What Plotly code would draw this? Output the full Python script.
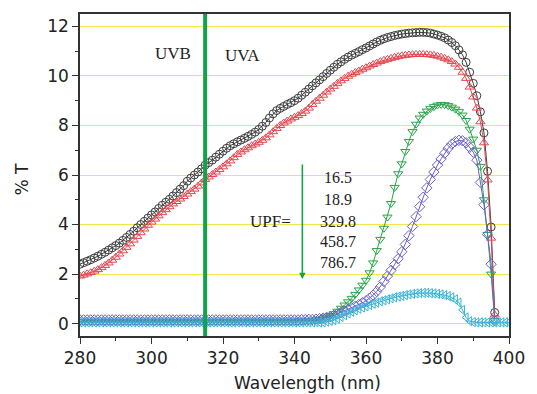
import plotly.graph_objects as go

# ---------------- data ----------------
wl_main = list(range(280, 397))   # 280..396 nm
wl_cyan = list(range(280, 401))   # 280..400 nm

t_black = [
    2.40, 2.46, 2.52, 2.58, 2.65, 2.72, 2.80, 2.88, 2.97, 3.06,
    3.15, 3.25, 3.36, 3.48, 3.60, 3.73, 3.87, 4.00, 4.13, 4.26,
    4.39, 4.51, 4.65, 4.78, 4.90, 5.02, 5.15, 5.29, 5.43, 5.57,
    5.75, 5.88, 6.00, 6.12, 6.25, 6.40, 6.50, 6.60, 6.72, 6.84,
    6.96, 7.08, 7.18, 7.26, 7.34, 7.41, 7.48, 7.56, 7.64, 7.73,
    7.84, 7.97, 8.12, 8.30, 8.47, 8.60, 8.69, 8.77, 8.85, 8.92,
    9.00, 9.10, 9.22, 9.34, 9.47, 9.60, 9.72, 9.84, 9.97, 10.10,
    10.23, 10.35, 10.47, 10.57, 10.67, 10.76, 10.84, 10.91, 10.98, 11.06,
    11.13, 11.21, 11.29, 11.37, 11.44, 11.50, 11.55, 11.59, 11.63, 11.66,
    11.69, 11.71, 11.73, 11.74, 11.75, 11.76, 11.76, 11.75, 11.73, 11.69,
    11.65, 11.60, 11.54, 11.45, 11.35, 11.22, 11.05, 10.85, 10.55, 10.15,
    9.70, 9.20, 8.55, 7.70, 6.15, 3.90, 0.45,
]

t_red = [
    1.92, 1.96, 2.01, 2.06, 2.12, 2.18, 2.26, 2.35, 2.45, 2.56,
    2.68, 2.81, 2.94, 3.08, 3.22, 3.37, 3.52, 3.67, 3.82, 3.97,
    4.10, 4.22, 4.35, 4.48, 4.60, 4.72, 4.83, 4.93, 5.03, 5.13,
    5.23, 5.33, 5.43, 5.55, 5.68, 5.82, 5.92, 6.02, 6.12, 6.22,
    6.33, 6.45, 6.57, 6.70, 6.83, 6.93, 7.02, 7.10, 7.18, 7.25,
    7.32, 7.40, 7.50, 7.62, 7.75, 7.88, 8.00, 8.10, 8.18, 8.26,
    8.33, 8.40, 8.48, 8.58, 8.70, 8.85, 8.98, 9.10, 9.22, 9.35,
    9.47, 9.58, 9.70, 9.80, 9.90, 9.99, 10.07, 10.14, 10.20, 10.27,
    10.33, 10.40, 10.46, 10.52, 10.58, 10.63, 10.67, 10.71, 10.75, 10.78,
    10.81, 10.83, 10.85, 10.86, 10.87, 10.87, 10.87, 10.86, 10.85, 10.83,
    10.80, 10.76, 10.71, 10.65, 10.58, 10.48, 10.35, 10.15, 9.90, 9.55,
    9.15, 8.70, 8.15, 7.30, 5.80, 3.45, 0.35,
]

t_green = [
    0.08, 0.08, 0.08, 0.08, 0.08, 0.08, 0.08, 0.08, 0.08, 0.08,
    0.08, 0.08, 0.08, 0.08, 0.08, 0.08, 0.08, 0.08, 0.08, 0.08,
    0.08, 0.08, 0.08, 0.08, 0.08, 0.08, 0.08, 0.08, 0.08, 0.08,
    0.08, 0.08, 0.08, 0.08, 0.08, 0.08, 0.08, 0.08, 0.08, 0.08,
    0.08, 0.08, 0.08, 0.08, 0.08, 0.08, 0.08, 0.08, 0.08, 0.08,
    0.08, 0.08, 0.08, 0.08, 0.08, 0.08, 0.08, 0.08, 0.08, 0.08,
    0.08, 0.09, 0.10, 0.11, 0.12, 0.13, 0.15, 0.18, 0.22, 0.27,
    0.33, 0.40, 0.50, 0.62, 0.75, 0.88, 1.02, 1.18, 1.36, 1.55,
    1.75, 2.05, 2.45, 2.95, 3.40, 3.85, 4.30, 4.85, 5.50, 6.05,
    6.45, 6.95, 7.35, 7.75, 8.05, 8.30, 8.45, 8.58, 8.68, 8.76,
    8.82, 8.85, 8.84, 8.80, 8.74, 8.66, 8.56, 8.42, 8.20, 7.85,
    7.45, 7.00, 6.35, 5.00, 3.60, 2.00, 0.12,
]

t_blue = [
    0.15, 0.15, 0.15, 0.15, 0.15, 0.15, 0.15, 0.15, 0.15, 0.15,
    0.15, 0.15, 0.15, 0.15, 0.15, 0.15, 0.15, 0.15, 0.15, 0.15,
    0.15, 0.15, 0.15, 0.15, 0.15, 0.15, 0.15, 0.15, 0.15, 0.15,
    0.15, 0.15, 0.15, 0.15, 0.15, 0.15, 0.15, 0.15, 0.15, 0.15,
    0.15, 0.15, 0.15, 0.15, 0.15, 0.15, 0.15, 0.15, 0.15, 0.15,
    0.15, 0.15, 0.15, 0.15, 0.15, 0.15, 0.15, 0.15, 0.15, 0.15,
    0.15, 0.15, 0.16, 0.16, 0.17, 0.17, 0.18, 0.20, 0.22, 0.25,
    0.28, 0.33, 0.39, 0.45, 0.51, 0.57, 0.63, 0.70, 0.77, 0.84,
    0.92, 1.03, 1.15, 1.30, 1.48, 1.70, 1.92, 2.15, 2.38, 2.62,
    2.90, 3.20, 3.55, 3.92, 4.32, 4.72, 5.10, 5.48, 5.82, 6.12,
    6.40, 6.65, 6.88, 7.08, 7.25, 7.35, 7.40, 7.38, 7.30, 7.12,
    6.92, 6.60, 5.70, 4.80, 3.60, 2.40, 0.12,
]

t_cyan = [
    0.05, 0.05, 0.05, 0.05, 0.05, 0.05, 0.05, 0.05, 0.05, 0.05,
    0.05, 0.05, 0.05, 0.05, 0.05, 0.05, 0.05, 0.05, 0.05, 0.05,
    0.05, 0.05, 0.05, 0.05, 0.05, 0.05, 0.05, 0.05, 0.05, 0.05,
    0.05, 0.05, 0.05, 0.05, 0.05, 0.05, 0.05, 0.05, 0.05, 0.05,
    0.05, 0.05, 0.05, 0.05, 0.05, 0.05, 0.05, 0.05, 0.05, 0.05,
    0.05, 0.05, 0.05, 0.05, 0.05, 0.05, 0.05, 0.05, 0.05, 0.05,
    0.05, 0.05, 0.05, 0.05, 0.05, 0.05, 0.05, 0.05, 0.05, 0.08,
    0.11, 0.15, 0.20, 0.27, 0.34, 0.41, 0.48, 0.54, 0.60, 0.65,
    0.70, 0.75, 0.80, 0.85, 0.90, 0.94, 0.98, 1.02, 1.06, 1.09,
    1.12, 1.15, 1.18, 1.20, 1.22, 1.23, 1.24, 1.24, 1.23, 1.22,
    1.20, 1.18, 1.15, 1.11, 1.06, 0.98, 0.85, 0.55, 0.25, 0.10,
    0.06, 0.05, 0.05, 0.05, 0.05, 0.05, 0.05, 0.05, 0.05, 0.05, 0.05,
]

upf_values = ["16.5", "18.9", "329.8", "458.7", "786.7"]
x_ticks = [280, 300, 320, 340, 360, 380, 400]
y_ticks = [0, 2, 4, 6, 8, 10, 12]

for s in (t_black, t_red, t_green, t_blue):
    assert len(s) == len(wl_main), len(s)
assert len(t_cyan) == len(wl_cyan), len(t_cyan)

# ---------------- figure ----------------
series = [
    (wl_main, t_black, "circle-open", "#3c3c3c"),
    (wl_main, t_red, "triangle-up-open", "#e5474f"),
    (wl_main, t_green, "triangle-down-open", "#25a647"),
    (wl_main, t_blue, "diamond-open", "#6a60cc"),
    (wl_cyan, t_cyan, "triangle-left-open", "#36b4d8"),
]

fig = go.Figure()
for xs, ys, sym, col in series:
    fig.add_trace(go.Scatter(
        x=xs, y=ys, mode="lines+markers",
        line=dict(color=col, width=1),
        marker=dict(symbol=sym, size=8, color=col, line=dict(color=col, width=1)),
        showlegend=False, hoverinfo="skip",
    ))

# UVB / UVA separator
fig.add_shape(type="line", x0=315, x1=315, y0=0, y1=1, xref="x", yref="paper",
              line=dict(color="#12a34a", width=4))

serif = "Liberation Serif, Times New Roman, serif"
ann = []
ann.append(dict(x=306, y=10.9, text="UVB", showarrow=False, xref="x", yref="y",
                font=dict(family=serif, size=17, color="#222")))
ann.append(dict(x=325.5, y=10.83, text="UVA", showarrow=False, xref="x", yref="y",
                font=dict(family=serif, size=17, color="#222")))
ann.append(dict(x=333.2, y=4.14, text="UPF=", showarrow=False, xref="x", yref="y",
                font=dict(family=serif, size=17, color="#222")))
upf_y = [5.88, 5.0, 4.14, 3.31, 2.46]
for txt, yy in zip(upf_values, upf_y):
    ann.append(dict(x=352.2, y=yy, text=txt, showarrow=False, xref="x", yref="y",
                    font=dict(family=serif, size=16, color="#222")))
# green arrow
ann.append(dict(x=342.2, y=1.8, ax=342.2, ay=6.48, xref="x", yref="y",
                axref="x", ayref="y", text="", showarrow=True,
                arrowhead=2, arrowsize=0.8, arrowwidth=1.6, arrowcolor="#12a34a"))
# axis titles
sans = "DejaVu Sans, Arial, sans-serif"
ann.append(dict(x=0.53, y=-0.145, xref="paper", yref="paper", text="Wavelength (nm)",
                showarrow=False, yanchor="middle",
                font=dict(family=sans, size=17, color="#222")))
ann.append(dict(x=-0.136, y=0.488, xref="paper", yref="paper", text="% T",
                showarrow=False, textangle=-90, xanchor="center", yanchor="middle",
                font=dict(family=sans, size=17, color="#222")))

fig.update_layout(
    width=537, height=394,
    margin=dict(l=80, r=17, t=12, b=58),
    paper_bgcolor="white", plot_bgcolor="white",
    annotations=ann,
    xaxis=dict(
        range=[280, 400], tickvals=x_ticks, ticks="outside", ticklen=6, tickwidth=1.2,
        tickcolor="#333", showline=True, linecolor="#333", linewidth=1.5, mirror=True,
        showgrid=False, zeroline=False,
        minor=dict(dtick=10, ticks="outside", ticklen=3, tickcolor="#333", showgrid=False),
        tickfont=dict(family=sans, size=17, color="#222"),
    ),
    yaxis=dict(
        range=[-0.5, 12.5], tickvals=y_ticks, ticks="outside", ticklen=6, tickwidth=1.2,
        tickcolor="#333", showline=True, linecolor="#333", linewidth=1.5, mirror=True,
        showgrid=True, gridcolor="#f3e54a", gridwidth=1, zeroline=False,
        minor=dict(dtick=1, ticks="outside", ticklen=3, tickcolor="#333", showgrid=False),
        tickfont=dict(family=sans, size=17, color="#222"),
    ),
)

# remove the browser's default 8px body margin so the 537x394 figure fills the window exactly
page_fix = (
    "document.body.style.margin='0';"
    "document.body.style.padding='0';"
    "document.body.style.overflow='hidden';"
    "var gd=document.getElementById('{plot_id}');"
    "Plotly.relayout(gd,{width:537,height:394});"
)

fig.write_html("out.html", config={"responsive": False, "displayModeBar": False},
               post_script=page_fix)
